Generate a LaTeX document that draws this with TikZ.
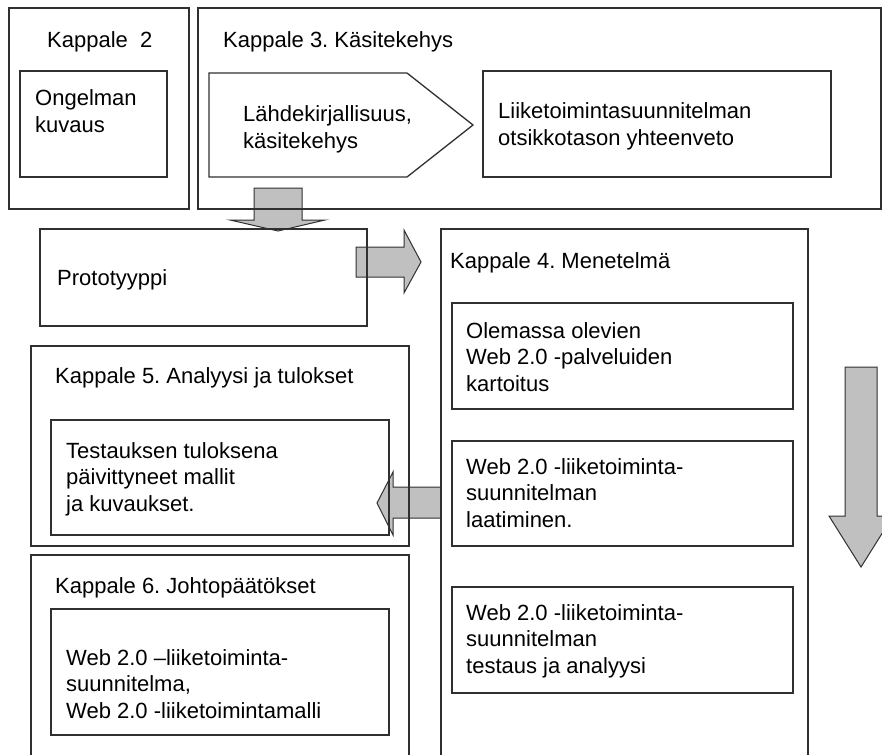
\documentclass[tikz,border=0pt]{standalone}
\usepackage{fontspec}
\setmainfont{Liberation Sans}
\frenchspacing
\definecolor{arrowgray}{HTML}{C0C0C0}
\definecolor{linegray}{HTML}{303030}
% rectangular frame as a named node: name, x1, y1, x2, y2
\newcommand\chapbox[5]{%
  \node[frame, minimum width={(#4-#2)*1pt}, minimum height={(#5-#3)*1pt}]
    (#1) at ({(#2+#4)/2},{(#3+#5)/2}) {};}
% text block whose first baseline sits at the given point
\newcommand\blocktext[4]{%
  \node[txt] (#1) at (#2,#3) {\parbox[t]{340pt}{\raggedright #4}};}
\begin{document}
\begin{tikzpicture}[x=1pt,y=-1pt,
  frame/.style={draw=linegray, line width=1.3pt, inner sep=0pt, outer sep=0pt},
  blockarrow/.style={draw=linegray, line width=1pt, fill=arrowgray, line join=miter},
  txt/.style={inner sep=0pt, anchor=base west, text=black,
              font=\fontsize{22}{26.5}\selectfont}]
\useasboundingbox (0,0) rectangle (882,754);
\clip (0,0) rectangle (882,754);

% block arrows (drawn first, frames go over them)
\draw[blockarrow] (254,188) -- (302,188) -- (302,220) -- (325,220) -- (278,231)
  -- (230,220) -- (254,220) -- cycle;
\draw[blockarrow] (356,247) -- (404,247) -- (404,230) -- (421,262) -- (404,293)
  -- (404,277) -- (356,277) -- cycle;
\draw[blockarrow] (441,487) -- (393,487) -- (393,472) -- (377,503) -- (393,535)
  -- (393,518) -- (441,518) -- cycle;
\draw[blockarrow] (845,367) -- (877,367) -- (877,516) -- (893,516) -- (861,567)
  -- (829,516) -- (845,516) -- cycle;

% chapter 2
\chapbox{k2}{9}{8}{189}{209}
\chapbox{ong}{20}{71}{167}{177}
\blocktext{k2t}{47}{48}{Kappale\ \ 2}
\blocktext{ongt}{35}{106}{Ongelman\\kuvaus}

% chapter 3
\chapbox{k3}{198}{8}{881}{209}
\draw[frame] (209,73) -- (407,73) -- (473,125) -- (407,177) -- (209,177) -- cycle;
\coordinate (lahde) at (340,125);
\chapbox{yht}{483}{71}{831}{177}
\blocktext{k3t}{223}{48}{Kappale 3. Käsitekehys}
\blocktext{lahdet}{243}{122}{Lähdekirjallisuus,\\käsitekehys}
\blocktext{yhtt}{498}{119}{Liiketoimintasuunnitelman\\otsikkotason yhteenveto}

% prototype
\chapbox{proto}{40}{229}{367}{326}
\blocktext{protot}{57}{285}{Prototyyppi}

% chapter 4
\chapbox{k4}{441}{229}{808}{770}
\chapbox{b1}{452}{303}{793}{409}
\chapbox{b2}{452}{441}{793}{546}
\chapbox{b3}{452}{587}{793}{693}
\blocktext{k4t}{450}{268}{Kappale 4. Menetelmä}
\blocktext{b1t}{466}{338}{Olemassa olevien\\Web 2.0 -palveluiden\\kartoitus}
\blocktext{b2t}{466}{474}{Web 2.0 -liiketoiminta-\\suunnitelman\\laatiminen.}
\blocktext{b3t}{466}{620}{Web 2.0 -liiketoiminta-\\suunnitelman\\testaus ja analyysi}

% chapter 5
\chapbox{k5}{31}{346}{409}{546}
\chapbox{test}{51}{420}{389}{535}
\blocktext{k5t}{55}{383}{Kappale 5. Analyysi ja tulokset}
\blocktext{testt}{66}{458}{Testauksen tuloksena\\päivittyneet mallit\\ja kuvaukset.}

% chapter 6
\chapbox{k6}{31}{555}{409}{770}
\chapbox{johto}{51}{609}{389}{735}
\blocktext{k6t}{55}{593}{Kappale 6. Johtopäätökset}
\blocktext{johtot}{66}{665}{Web 2.0 –liiketoiminta-\\suunnitelma,\\Web 2.0 -liiketoimintamalli}
\end{tikzpicture}
\end{document}
